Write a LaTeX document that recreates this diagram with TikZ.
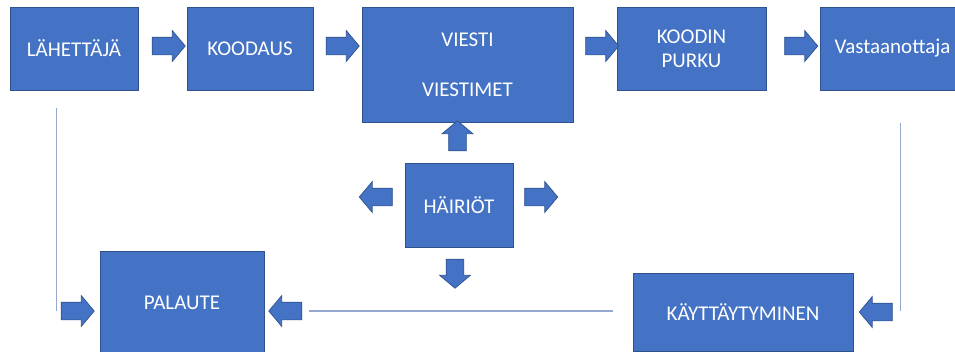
\documentclass[tikz,border=0pt]{standalone}
\usepackage{fontspec}
\setmainfont{Carlito}
\usetikzlibrary{shapes.arrows}
\definecolor{boxblue}{HTML}{4472C4}
\definecolor{boxedge}{HTML}{2F528F}
\definecolor{linegray}{HTML}{95A9CE}
\tikzset{
  box/.style={draw=boxedge, line width=0.8pt, fill=boxblue, text=white,
    font=\fontsize{21}{24}\selectfont, inner sep=0pt, align=center},
  barrow/.style={single arrow, draw=boxedge, line width=0.7pt, fill=boxblue,
    inner xsep=0pt, inner ysep=8.5pt, single arrow head extend=6.5pt,
    single arrow tip angle=100, minimum height=33pt},
  fbline/.style={draw=linegray, line width=1.2pt}
}
\begin{document}
\begin{tikzpicture}[x=1pt,y=-1pt]
\clip (0,0) rectangle (955,351);
\fill[white] (0,0) rectangle (955,351);
% boxes
\node[box, minimum width=128pt, minimum height=83pt] (send) at (74,48.5) {LÄHETTÄJÄ};
\node[box, minimum width=126pt, minimum height=83pt] (code) at (250,48.5) {KOODAUS};
\node[box, minimum width=211pt, minimum height=115pt] (msg) at (467.5,64.5) {VIESTI\\[26pt]VIESTIMET};
\node[box, minimum width=149pt, minimum height=83pt] (decode) at (691.5,48.5) {KOODIN\\PURKU};
\node[box, minimum width=145pt, minimum height=83pt] (recv) at (892.5,48.5) {Vastaanottaja};
\node[box, minimum width=108pt, minimum height=84pt] (noise) at (459,205) {HÄIRIÖT};
\node[box, minimum width=164pt, minimum height=104pt] (fb) at (182,303) {PALAUTE};
\node[box, minimum width=220pt, minimum height=78pt] (beh) at (743,312) {KÄYTTÄYTYMINEN};
% block arrows
\node[barrow] (a1) at (165,46) {};
\node[barrow] (a2) at (339,46) {};
\node[barrow] (a3) at (598.5,46) {};
\node[barrow] (a4) at (797.5,46) {};
\node[barrow, rotate=90, minimum height=30pt] (aup) at (457.5,139.5) {};
\node[barrow, rotate=180] (aleft) at (379.5,197) {};
\node[barrow] (aright) at (537.5,197) {};
\node[barrow, rotate=-90, minimum height=29pt] (adown) at (455,270) {};
\node[barrow] (afbin) at (74,311) {};
\node[barrow, rotate=180] (afbr) at (289,311) {};
\node[barrow, rotate=180] (abeh) at (879.5,312) {};
% feedback lines
\coordinate (l1) at (56.5,108);
\coordinate (l2) at (56.5,311);
\coordinate (r1) at (900.5,123);
\coordinate (r2) at (900.5,311);
\coordinate (h1) at (309,311);
\coordinate (h2) at (613,311);
\draw[fbline] (l1) -- (l2);
\draw[fbline] (r1) -- (r2);
\draw[fbline] (h1) -- (h2);
\end{tikzpicture}
\end{document}
